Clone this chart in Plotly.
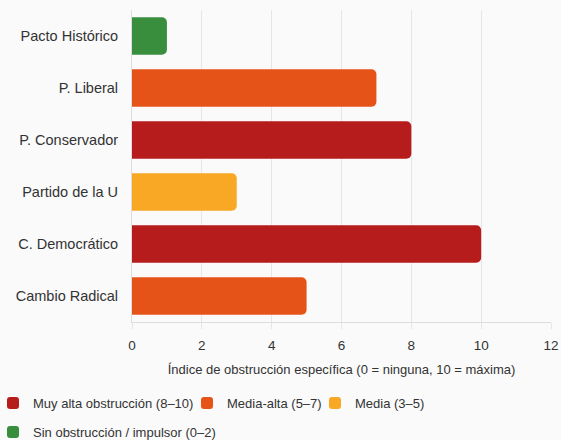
import plotly.graph_objects as go

categories = ["Pacto Histórico", "P. Liberal", "P. Conservador", "Partido de la U", "C. Democrático", "Cambio Radical"]
values = [1, 7, 8, 3, 10, 5]
groups = ["Sin obstrucción / impulsor (0–2)", "Media-alta (5–7)", "Muy alta obstrucción (8–10)",
          "Media (3–5)", "Muy alta obstrucción (8–10)", "Media-alta (5–7)"]
legend_order = ["Muy alta obstrucción (8–10)", "Media-alta (5–7)", "Media (3–5)", "Sin obstrucción / impulsor (0–2)"]
legend_slot = {"Muy alta obstrucción (8–10)": "legend",
               "Media-alta (5–7)": "legend2",
               "Media (3–5)": "legend3",
               "Sin obstrucción / impulsor (0–2)": "legend4"}
colors = {"Muy alta obstrucción (8–10)": "#b71c1c",
          "Media-alta (5–7)": "#e65318",
          "Media (3–5)": "#f9a825",
          "Sin obstrucción / impulsor (0–2)": "#388e3c"}
x_ticks = [0, 2, 4, 6, 8, 10, 12]

fig = go.Figure()
for g in legend_order:
    ys = [c for c, gg in zip(categories, groups) if gg == g]
    xs = [v for v, gg in zip(values, groups) if gg == g]
    fig.add_trace(go.Bar(y=ys, x=xs, name=g, orientation="h", legend=legend_slot[g],
                         marker=dict(color=colors[g], line=dict(width=0)),
                         width=0.72))

W, H = 561, 440
ML, MR, MT, MB = 132, 10, 10, 118
pw = W - ML - MR
ph = H - MT - MB


def lx(px):
    return (px - ML) / pw


def ly(py):
    return (H - MB - py) / ph


leg_font = dict(size=13, color="#333333")
leg_common = dict(orientation="h", xanchor="left", yanchor="middle", font=leg_font,
                  bgcolor="rgba(0,0,0,0)")
fig.update_layout(
    width=W, height=H,
    paper_bgcolor="#fafafa", plot_bgcolor="#fafafa",
    margin=dict(l=ML, r=MR, t=MT, b=MB, autoexpand=False),
    font=dict(family="Liberation Sans, Arial, sans-serif", size=14.5, color="#333333"),
    barmode="overlay",
    barcornerradius=5,
    showlegend=True,
    legend=dict(x=lx(-7), y=ly(403), **leg_common),
    legend2=dict(x=lx(187), y=ly(403), **leg_common),
    legend3=dict(x=lx(315), y=ly(403), **leg_common),
    legend4=dict(x=lx(-7), y=ly(432), **leg_common),
)
fig.update_xaxes(range=[0, 12], tickvals=x_ticks, showgrid=True, gridcolor="#e6e6e6",
                 showline=True, linecolor="#dddddd", ticks="outside", ticklen=6,
                 tickcolor="#e6e6e6", zeroline=False, automargin=False,
                 tickfont=dict(size=13.5), ticklabelstandoff=5,
                 title=dict(text="Índice de obstrucción específica (0 = ninguna, 10 = máxima)",
                            font=dict(size=13), standoff=12))
fig.update_yaxes(categoryorder="array", categoryarray=categories, autorange="reversed",
                 showline=True, linecolor="#dddddd", ticks="", ticklabelstandoff=10,
                 showgrid=False, automargin=False)

fig.write_html("out.html", config={"displayModeBar": False},
               post_script="document.body.style.margin='0';document.body.style.overflow='hidden';")
